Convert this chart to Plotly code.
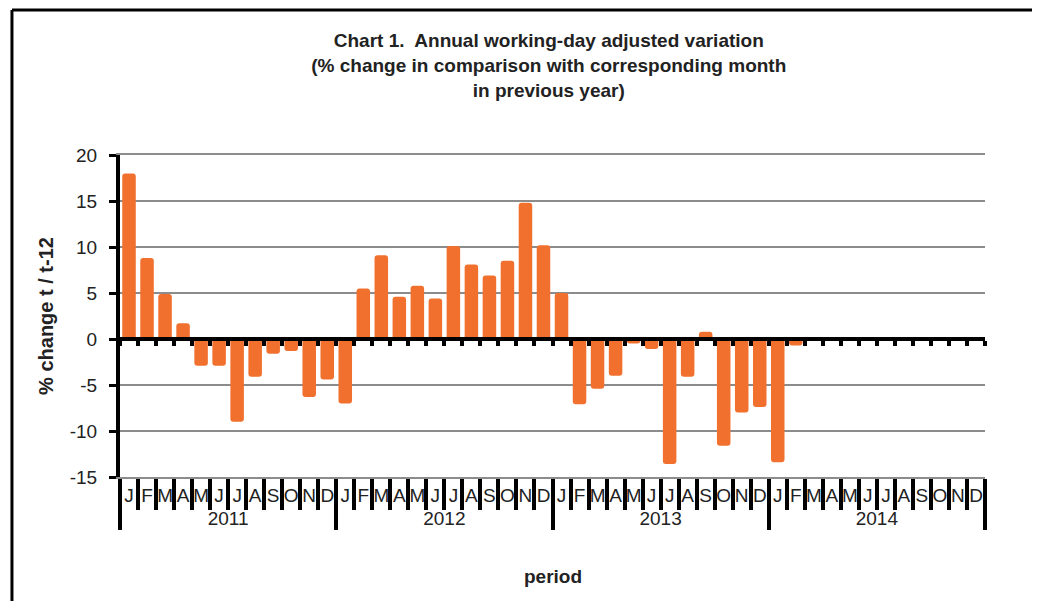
import plotly.graph_objects as go

years = ["2011", "2012", "2013", "2014"]
months = ["J", "F", "M", "A", "M", "J", "J", "A", "S", "O", "N", "D"]
values_2011 = [18.0, 8.8, 4.9, 1.7, -2.9, -2.9, -9.0, -4.1, -1.6, -1.3, -6.3, -4.4]
values_2012 = [-7.0, 5.5, 9.1, 4.6, 5.8, 4.4, 10.1, 8.1, 6.9, 8.5, 14.8, 10.2]
values_2013 = [5.0, -7.1, -5.4, -4.0, -0.5, -1.1, -13.6, -4.1, 0.8, -11.6, -8.0, -7.4]
values_2014 = [-13.4, -0.7]
y_ticks = [-15, -10, -5, 0, 5, 10, 15, 20]

title_text = ("<b>Chart 1.  Annual working-day adjusted variation<br>"
              "(% change in comparison with corresponding month<br>"
              "in previous year)</b>")
y_title = "<b>% change t / t-12</b>"
x_title = "<b>period</b>"

# make repeated month initials unique within a year with zero-width spaces
ZW = "\u200b"
seen = {}
unique_months = []
for m in months:
    k = seen.get(m, 0)
    unique_months.append(m + ZW * k)
    seen[m] = k + 1

series = values_2011 + values_2012 + values_2013 + values_2014
n = len(years) * len(months)
series = series + [None] * (n - len(series))
x_outer = [y for y in years for _ in months]
x_inner = [m for _ in years for m in unique_months]

FONT = "Liberation Sans, Arial, sans-serif"
ORANGE = "#F1702E"
GRID = "#8C8C8C"
TXT = "#222222"

fig = go.Figure()
fig.add_trace(go.Bar(
    x=[x_outer, x_inner], y=series,
    marker=dict(color=ORANGE, line=dict(width=0), cornerradius=3),
    showlegend=False, hoverinfo="skip",
))
fig.add_trace(go.Scatter(x=[None], y=[None], xaxis="x2", yaxis="y",
                         showlegend=False, hoverinfo="skip"))

ymin, ymax = y_ticks[0], y_ticks[-1]
frame = dict(color="black", width=3)
fig.update_layout(
    width=1032, height=593,
    margin=dict(l=112, r=55, t=147, b=124),
    paper_bgcolor="white", plot_bgcolor="white",
    font=dict(family=FONT, color=TXT, size=19),
    bargap=0.25,
    title=dict(text=title_text, x=0.524, xanchor="center", y=0.934, yanchor="top",
               font=dict(family=FONT, size=19, color=TXT)),
    xaxis=dict(
        type="multicategory",
        tickmode="linear", tick0=0, dtick=1,
        showline=True, linecolor=GRID, linewidth=2, mirror=True,
        showgrid=False, zeroline=False,
        ticks="outside", ticklen=31, tickwidth=4, tickcolor="black",
        tickangle=0,
        tickfont=dict(family=FONT, size=19, color=TXT),
        showdividers=True, dividercolor="black", dividerwidth=4,
    ),
    xaxis2=dict(
        overlaying="x", anchor="free", position=(0 - ymin) / (ymax - ymin),
        type="linear", range=[-0.5, n - 0.5],
        tickmode="array", tickvals=[i - 0.5 for i in range(n + 1)],
        showticklabels=False, ticks="outside", ticklen=5, tickwidth=4, tickcolor="black",
        showline=True, linecolor="black", linewidth=4,
        showgrid=False, zeroline=False, layer="above traces",
    ),
    yaxis=dict(
        range=[ymin, ymax],
        tickmode="array", tickvals=y_ticks, ticktext=[str(v) for v in y_ticks],
        showline=True, linecolor="black", linewidth=4,
        ticks="outside", ticklen=7, tickwidth=3, tickcolor="black",
        ticklabelstandoff=8,
        showgrid=True, gridcolor=GRID, gridwidth=2,
        zeroline=False,
        tickfont=dict(family=FONT, size=19, color=TXT),
        title=dict(text=y_title, font=dict(family=FONT, size=20, color=TXT), standoff=12),
    ),
    annotations=[dict(text=x_title, xref="paper", yref="paper", x=0.5, y=-0.31,
                      xanchor="center", yanchor="middle", showarrow=False,
                      font=dict(family=FONT, size=19, color=TXT))],
    shapes=[
        dict(type="line", xref="paper", yref="paper",
             x0=-0.1249, x1=-0.1249, y0=-0.6, y1=1.4503, line=frame, layer="below"),
        dict(type="line", xref="paper", yref="paper",
             x0=-0.1249, x1=1.2, y0=1.4503, y1=1.4503, line=frame, layer="below"),
    ],
)

fig.write_html("out.html")
